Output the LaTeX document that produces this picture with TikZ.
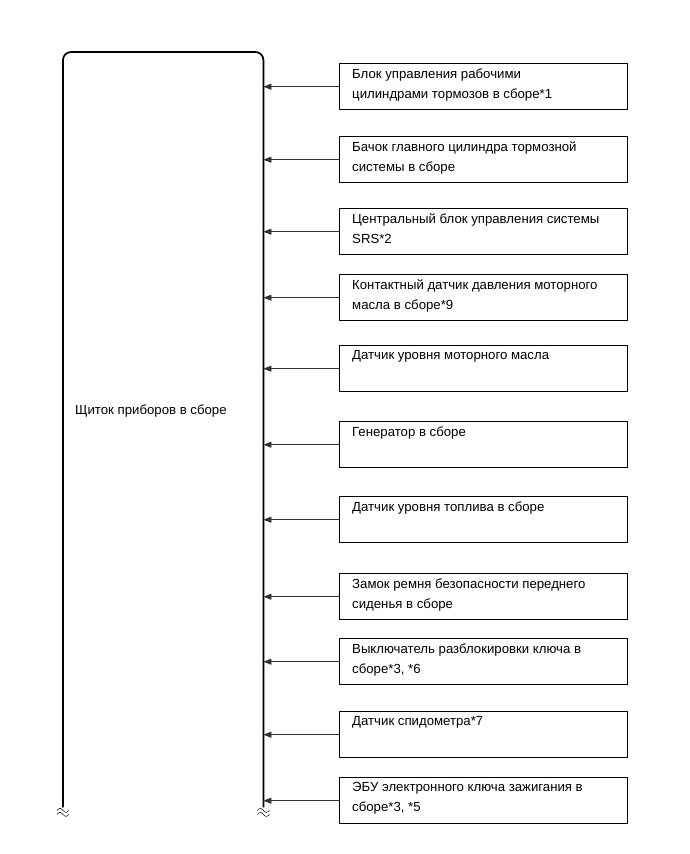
\documentclass[tikz,border=0pt]{standalone}
\usepackage{fontspec}
\setmainfont{Liberation Sans}
\usetikzlibrary{arrows.meta,positioning,calc}

\begin{document}
\begin{tikzpicture}[x=1pt, y=-1pt,
  unit/.style={draw, line width=1.4pt, minimum width=288pt, minimum height=46pt, inner sep=0pt, anchor=north west},
  txt/.style={anchor=north west, align=left, inner sep=0pt, font=\fontsize{13.2}{20}\selectfont},
  ar/.style={-{Triangle[length=8pt, width=6pt]}, line width=0.7pt, draw=black!80, fill=black}]
\useasboundingbox (0,0) rectangle (690,854);
% instrument panel (open at the bottom)
\node[minimum width=200pt, minimum height=755pt, inner sep=0pt, anchor=north west] (panel) at (63,52) {};
\draw[line width=1.7pt, rounded corners=8pt] (panel.south west) -- (panel.north west) -- (panel.north east) -- (panel.south east);
\node[txt, anchor=west] (plbl) at (75,411) {Щиток приборов в сборе};
\foreach \c in {south west, south east}
  \foreach \dy in {3,7}
    \draw[line width=0.5pt] ([shift={(-6,\dy)}]panel.\c) sin +(3,-2) cos +(3,2) sin +(3,2) cos +(3,-2);
% signal sources
\foreach \i/\y/\t in {
  1/63/{Блок управления рабочими\\цилиндрами тормозов в сборе*1},
  2/136/{Бачок главного цилиндра тормозной\\системы в сборе},
  3/208/{Центральный блок управления системы\\SRS*2},
  4/274/{Контактный датчик давления моторного\\масла в сборе*9},
  5/345/{Датчик уровня моторного масла},
  6/421/{Генератор в сборе},
  7/496/{Датчик уровня топлива в сборе},
  8/573/{Замок ремня безопасности переднего\\сиденья в сборе},
  9/638/{Выключатель разблокировки ключа в\\сборе*3, *6},
  10/711/{Датчик спидометра*7},
  11/777/{ЭБУ электронного ключа зажигания в\\сборе*3, *5}} {
  \node[unit] (b\i) at (339,\y) {};
  \node[txt] (t\i) at ([shift={(13,5.5)}]b\i.north west) {\t};
  \draw[ar] (b\i.west) -- (b\i.west -| panel.east);
}
\end{tikzpicture}
\end{document}
